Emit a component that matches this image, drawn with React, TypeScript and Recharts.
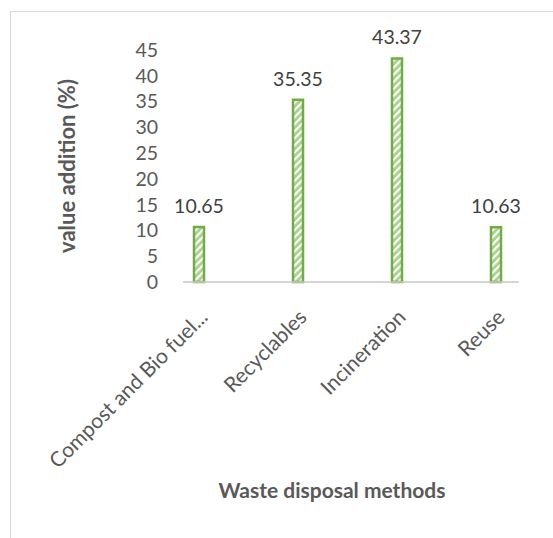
import React from 'react';
import { BarChart, Bar, XAxis, YAxis, LabelList } from 'recharts';

const categories = ['Compost and Bio fuel...', 'Recyclables', 'Incineration', 'Reuse'];
const values = [10.65, 35.35, 43.37, 10.63];
const yTicks = [0, 5, 10, 15, 20, 25, 30, 35, 40, 45];

const data = categories.map((name, i) => ({ name, value: values[i] }));

const FONT = 'Lato, "Open Sans", sans-serif';

export default function App() {
  return (
    <div style={{ position: 'absolute', left: 0, top: 0, width: 553, height: 538, overflow: 'hidden', background: '#fff' }}>
      <div style={{ position: 'absolute', left: 10, top: 11, width: 600, height: 600, border: '1px solid #d9d9d9', boxSizing: 'border-box' }} />
      <div style={{ position: 'absolute', left: 0, top: 0 }}>
        <BarChart
          width={553}
          height={538}
          data={data}
          margin={{ top: 50, right: 34, bottom: 36, left: 40 }}
          style={{ fontFamily: FONT }}
        >
          <defs>
            <pattern id="hatch" patternUnits="userSpaceOnUse" width="5" height="5" patternTransform="rotate(-45)">
              <rect x="0" y="0" width="5" height="5" fill="#a9d18e" />
              <rect x="0" y="0" width="5" height="2.2" fill="#ffffff" />
            </pattern>
          </defs>
          <XAxis
            dataKey="name"
            height={220}
            padding={{ left: -34, right: -26 }}
            axisLine={{ stroke: '#c8c8c8', strokeWidth: 1.5 }}
            tickLine={false}
            tickMargin={20}
            interval={0}
            angle={-45}
            textAnchor="end"
            tick={{ fill: '#595959', fontSize: 21, fontFamily: FONT }}
            label={{
              value: 'Waste disposal methods',
              position: 'insideBottom',
              offset: 4,
              dx: -19,
              style: { fill: '#595959', fontSize: 21, fontWeight: 700, fontFamily: FONT },
            }}
          />
          <YAxis
            width={143}
            domain={[0, 45]}
            ticks={yTicks}
            interval={0}
            axisLine={false}
            tickLine={false}
            tickMargin={19}
            tick={{ fill: '#595959', fontSize: 19.5, fontFamily: FONT }}
            label={{
              value: 'value addition (%)',
              angle: -90,
              position: 'insideLeft',
              offset: 27,
              style: { textAnchor: 'middle', fill: '#595959', fontSize: 22, fontWeight: 700, fontFamily: FONT },
            }}
          />
          <Bar
            dataKey="value"
            barSize={10}
            fill="url(#hatch)"
            stroke="#70ad47"
            strokeWidth={2.5}
            isAnimationActive={false}
          >
            <LabelList
              dataKey="value"
              position="top"
              offset={14}
              style={{ fill: '#404040', fontSize: 19.5, fontFamily: FONT }}
            />
          </Bar>
        </BarChart>
      </div>
    </div>
  );
}
